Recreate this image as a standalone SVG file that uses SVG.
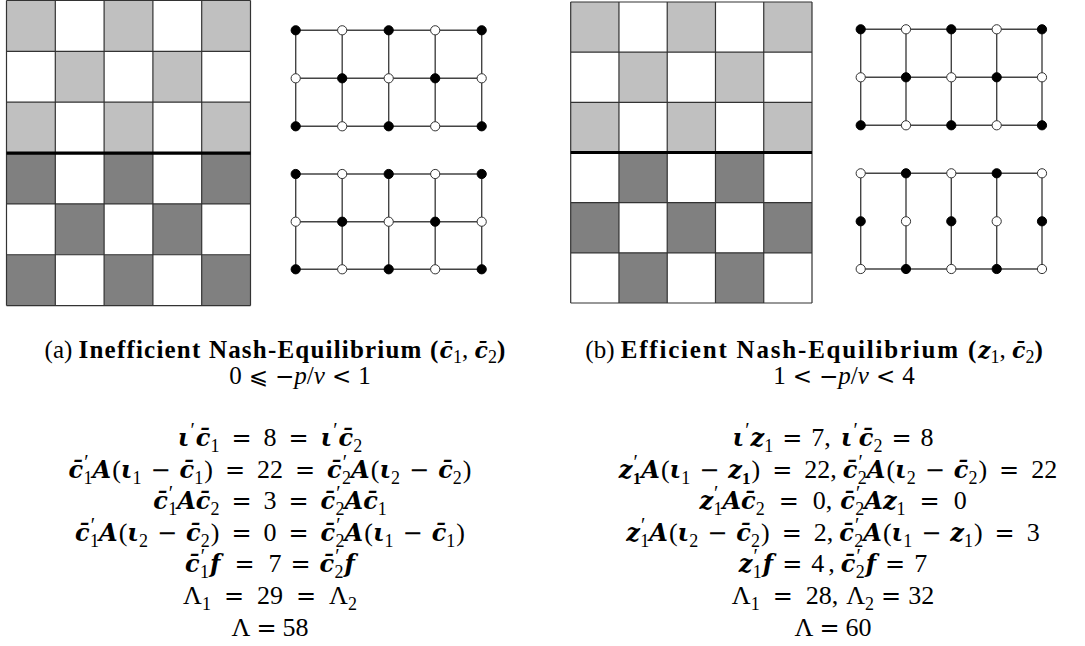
<svg xmlns="http://www.w3.org/2000/svg" width="1085" height="646" viewBox="0 0 1085 646">
<style>
.bg{fill:#fff}
.lt{fill:#c0c0c0}
.dk{fill:#808080}
.gl{fill:none;stroke:#333;stroke-width:1.2}
.thick{stroke:#000;stroke-width:3.2}
.edge{fill:none;stroke:#444;stroke-width:1.4}
.nb{fill:#000;stroke:#000;stroke-width:1}
.nw{fill:#fff;stroke:#333;stroke-width:1}
text{font-family:"Liberation Serif","DejaVu Serif",serif;fill:#000}
.cap{font-size:25px;text-anchor:middle}
.capb{font-weight:bold;letter-spacing:1.2px}
.capb2{font-weight:bold;letter-spacing:1.8px}
.m{font-size:26px;text-anchor:middle}
.v{font-family:"DejaVu Serif",serif;font-size:24px;font-weight:bold;font-style:italic}
.vc{font-family:"DejaVu Serif",serif;font-size:22px;font-weight:bold;font-style:italic}
.o{font-family:"DejaVu Sans",sans-serif;font-size:24px}
.s{font-size:18px}
.p{font-size:20px}
.sb{font-size:17px;font-weight:bold}
.it{font-style:italic}
.rel{font-family:"DejaVu Sans","DejaVu Serif",sans-serif;font-size:23px}
</style>

<g id="grid-a">
<rect class="bg" x="6.5" y="0.5" width="244" height="305.1"/>
<rect class="lt" x="6.5" y="0.5" width="48.8" height="50.85"/>
<rect class="lt" x="104.1" y="0.5" width="48.8" height="50.85"/>
<rect class="lt" x="201.7" y="0.5" width="48.8" height="50.85"/>
<rect class="lt" x="55.3" y="51.35" width="48.8" height="50.85"/>
<rect class="lt" x="152.9" y="51.35" width="48.8" height="50.85"/>
<rect class="lt" x="6.5" y="102.2" width="48.8" height="50.85"/>
<rect class="lt" x="104.1" y="102.2" width="48.8" height="50.85"/>
<rect class="lt" x="201.7" y="102.2" width="48.8" height="50.85"/>
<rect class="dk" x="6.5" y="153.05" width="48.8" height="50.85"/>
<rect class="dk" x="104.1" y="153.05" width="48.8" height="50.85"/>
<rect class="dk" x="201.7" y="153.05" width="48.8" height="50.85"/>
<rect class="dk" x="55.3" y="203.9" width="48.8" height="50.85"/>
<rect class="dk" x="152.9" y="203.9" width="48.8" height="50.85"/>
<rect class="dk" x="6.5" y="254.75" width="48.8" height="50.85"/>
<rect class="dk" x="104.1" y="254.75" width="48.8" height="50.85"/>
<rect class="dk" x="201.7" y="254.75" width="48.8" height="50.85"/>
<path class="gl" d="M6.5 0.5V305.6M55.3 0.5V305.6M104.1 0.5V305.6M152.9 0.5V305.6M201.7 0.5V305.6M250.5 0.5V305.6M6.5 0.5H250.5M6.5 51.35H250.5M6.5 102.2H250.5M6.5 203.9H250.5M6.5 254.75H250.5M6.5 305.6H250.5"/>
<path class="thick" d="M6.5 153.05H250.5"/>
</g>

<g id="grid-b">
<rect class="bg" x="570.7" y="2" width="241.3" height="301"/>
<rect class="lt" x="570.7" y="2" width="48.26" height="50.17"/>
<rect class="lt" x="667.22" y="2" width="48.26" height="50.17"/>
<rect class="lt" x="763.74" y="2" width="48.26" height="50.17"/>
<rect class="lt" x="618.96" y="52.17" width="48.26" height="50.17"/>
<rect class="lt" x="715.48" y="52.17" width="48.26" height="50.17"/>
<rect class="lt" x="570.7" y="102.33" width="48.26" height="50.17"/>
<rect class="lt" x="667.22" y="102.33" width="48.26" height="50.17"/>
<rect class="lt" x="763.74" y="102.33" width="48.26" height="50.17"/>
<rect class="dk" x="618.96" y="152.5" width="48.26" height="50.17"/>
<rect class="dk" x="715.48" y="152.5" width="48.26" height="50.17"/>
<rect class="dk" x="570.7" y="202.67" width="48.26" height="50.17"/>
<rect class="dk" x="667.22" y="202.67" width="48.26" height="50.17"/>
<rect class="dk" x="763.74" y="202.67" width="48.26" height="50.17"/>
<rect class="dk" x="618.96" y="252.83" width="48.26" height="50.17"/>
<rect class="dk" x="715.48" y="252.83" width="48.26" height="50.17"/>
<path class="gl" d="M570.7 2V303M618.96 2V303M667.22 2V303M715.48 2V303M763.74 2V303M812 2V303M570.7 2H812M570.7 52.17H812M570.7 102.33H812M570.7 202.67H812M570.7 252.83H812M570.7 303H812"/>
<path class="thick" d="M570.7 152.5H812"/>
</g>

<g id="connectors">
<path class="edge" d="M295.7 30.3H481.7M295.7 78.3H481.7M295.7 126.3H481.7M295.7 30.3V126.3M342.2 30.3V126.3M388.7 30.3V126.3M435.2 30.3V126.3M481.7 30.3V126.3"/>
<path class="edge" d="M295.7 174H481.7M295.7 221.7H481.7M295.7 269.3H481.7M295.7 174V269.3M342.2 174V269.3M388.7 174V269.3M435.2 174V269.3M481.7 174V269.3"/>
<path class="edge" d="M860.7 29.3H1042M860.7 77.3H1042M860.7 125.3H1042M860.7 29.3V125.3M906 29.3V125.3M951.3 29.3V125.3M996.7 29.3V125.3M1042 29.3V125.3"/>
<path class="edge" d="M860.7 173.3H1042M860.7 269H1042M860.7 173.3V269M906 173.3V269M951.3 173.3V269M996.7 173.3V269M1042 173.3V269"/>
</g>

<g id="graph-a-top">
<g id="at-00"><circle class="nb" cx="295.7" cy="30.3" r="4.6"/></g>
<g id="at-01"><circle class="nw" cx="342.2" cy="30.3" r="4.6"/></g>
<g id="at-02"><circle class="nb" cx="388.7" cy="30.3" r="4.6"/></g>
<g id="at-03"><circle class="nw" cx="435.2" cy="30.3" r="4.6"/></g>
<g id="at-04"><circle class="nb" cx="481.7" cy="30.3" r="4.6"/></g>
<g id="at-10"><circle class="nw" cx="295.7" cy="78.3" r="4.6"/></g>
<g id="at-11"><circle class="nb" cx="342.2" cy="78.3" r="4.6"/></g>
<g id="at-12"><circle class="nw" cx="388.7" cy="78.3" r="4.6"/></g>
<g id="at-13"><circle class="nb" cx="435.2" cy="78.3" r="4.6"/></g>
<g id="at-14"><circle class="nw" cx="481.7" cy="78.3" r="4.6"/></g>
<g id="at-20"><circle class="nb" cx="295.7" cy="126.3" r="4.6"/></g>
<g id="at-21"><circle class="nw" cx="342.2" cy="126.3" r="4.6"/></g>
<g id="at-22"><circle class="nb" cx="388.7" cy="126.3" r="4.6"/></g>
<g id="at-23"><circle class="nw" cx="435.2" cy="126.3" r="4.6"/></g>
<g id="at-24"><circle class="nb" cx="481.7" cy="126.3" r="4.6"/></g>
</g>

<g id="graph-a-bottom">
<g id="ab-00"><circle class="nb" cx="295.7" cy="174" r="4.6"/></g>
<g id="ab-01"><circle class="nw" cx="342.2" cy="174" r="4.6"/></g>
<g id="ab-02"><circle class="nb" cx="388.7" cy="174" r="4.6"/></g>
<g id="ab-03"><circle class="nw" cx="435.2" cy="174" r="4.6"/></g>
<g id="ab-04"><circle class="nb" cx="481.7" cy="174" r="4.6"/></g>
<g id="ab-10"><circle class="nw" cx="295.7" cy="221.7" r="4.6"/></g>
<g id="ab-11"><circle class="nb" cx="342.2" cy="221.7" r="4.6"/></g>
<g id="ab-12"><circle class="nw" cx="388.7" cy="221.7" r="4.6"/></g>
<g id="ab-13"><circle class="nb" cx="435.2" cy="221.7" r="4.6"/></g>
<g id="ab-14"><circle class="nw" cx="481.7" cy="221.7" r="4.6"/></g>
<g id="ab-20"><circle class="nb" cx="295.7" cy="269.3" r="4.6"/></g>
<g id="ab-21"><circle class="nw" cx="342.2" cy="269.3" r="4.6"/></g>
<g id="ab-22"><circle class="nb" cx="388.7" cy="269.3" r="4.6"/></g>
<g id="ab-23"><circle class="nw" cx="435.2" cy="269.3" r="4.6"/></g>
<g id="ab-24"><circle class="nb" cx="481.7" cy="269.3" r="4.6"/></g>
</g>

<g id="graph-b-top">
<g id="bt-00"><circle class="nb" cx="860.7" cy="29.3" r="4.6"/></g>
<g id="bt-01"><circle class="nw" cx="906" cy="29.3" r="4.6"/></g>
<g id="bt-02"><circle class="nb" cx="951.3" cy="29.3" r="4.6"/></g>
<g id="bt-03"><circle class="nw" cx="996.7" cy="29.3" r="4.6"/></g>
<g id="bt-04"><circle class="nb" cx="1042" cy="29.3" r="4.6"/></g>
<g id="bt-10"><circle class="nw" cx="860.7" cy="77.3" r="4.6"/></g>
<g id="bt-11"><circle class="nb" cx="906" cy="77.3" r="4.6"/></g>
<g id="bt-12"><circle class="nw" cx="951.3" cy="77.3" r="4.6"/></g>
<g id="bt-13"><circle class="nb" cx="996.7" cy="77.3" r="4.6"/></g>
<g id="bt-14"><circle class="nw" cx="1042" cy="77.3" r="4.6"/></g>
<g id="bt-20"><circle class="nb" cx="860.7" cy="125.3" r="4.6"/></g>
<g id="bt-21"><circle class="nw" cx="906" cy="125.3" r="4.6"/></g>
<g id="bt-22"><circle class="nb" cx="951.3" cy="125.3" r="4.6"/></g>
<g id="bt-23"><circle class="nw" cx="996.7" cy="125.3" r="4.6"/></g>
<g id="bt-24"><circle class="nb" cx="1042" cy="125.3" r="4.6"/></g>
</g>

<g id="graph-b-bottom">
<g id="bb-00"><circle class="nw" cx="860.7" cy="173.3" r="4.6"/></g>
<g id="bb-01"><circle class="nb" cx="906" cy="173.3" r="4.6"/></g>
<g id="bb-02"><circle class="nw" cx="951.3" cy="173.3" r="4.6"/></g>
<g id="bb-03"><circle class="nb" cx="996.7" cy="173.3" r="4.6"/></g>
<g id="bb-04"><circle class="nw" cx="1042" cy="173.3" r="4.6"/></g>
<g id="bb-10"><circle class="nb" cx="860.7" cy="221.3" r="4.6"/></g>
<g id="bb-11"><circle class="nw" cx="906" cy="221.3" r="4.6"/></g>
<g id="bb-12"><circle class="nb" cx="951.3" cy="221.3" r="4.6"/></g>
<g id="bb-13"><circle class="nw" cx="996.7" cy="221.3" r="4.6"/></g>
<g id="bb-14"><circle class="nb" cx="1042" cy="221.3" r="4.6"/></g>
<g id="bb-20"><circle class="nw" cx="860.7" cy="269" r="4.6"/></g>
<g id="bb-21"><circle class="nb" cx="906" cy="269" r="4.6"/></g>
<g id="bb-22"><circle class="nw" cx="951.3" cy="269" r="4.6"/></g>
<g id="bb-23"><circle class="nb" cx="996.7" cy="269" r="4.6"/></g>
<g id="bb-24"><circle class="nw" cx="1042" cy="269" r="4.6"/></g>
</g>

<g id="caption-a">
<text class="cap" x="275.5" y="358"><tspan>(a) </tspan><tspan class="capb">Inefficient Nash-Equilibrium (</tspan><tspan class="vc">c&#x304;</tspan><tspan class="s" dy="5">1</tspan><tspan dy="-5">, </tspan><tspan class="vc">c&#x304;</tspan><tspan class="s" dy="5">2</tspan><tspan class="capb" dy="-5">)</tspan></text>
<text class="cap" x="300" y="384"><tspan>0</tspan><tspan class="rel" dx="7">⩽</tspan><tspan class="rel" dx="7">−</tspan><tspan class="it">p</tspan><tspan>/</tspan><tspan class="it">v</tspan><tspan class="rel" dx="7">&lt;</tspan><tspan dx="7">1</tspan></text>
</g>

<g id="caption-b">
<text class="cap" x="815" y="358"><tspan>(b) </tspan><tspan class="capb2">Efficient Nash-Equilibrium (</tspan><tspan class="vc">z</tspan><tspan class="s" dy="5">1</tspan><tspan dy="-5">, </tspan><tspan class="vc">c&#x304;</tspan><tspan class="s" dy="5">2</tspan><tspan class="capb2" dy="-5">)</tspan></text>
<text class="cap" x="844" y="384"><tspan>1</tspan><tspan class="rel" dx="7">&lt;</tspan><tspan class="rel" dx="7">−</tspan><tspan class="it">p</tspan><tspan>/</tspan><tspan class="it">v</tspan><tspan class="rel" dx="7">&lt;</tspan><tspan dx="7">4</tspan></text>
</g>

<g id="formulas-a">
<text class="m" x="270" y="446"><tspan class="v">ι</tspan><tspan class="p" dx="1" dy="-9">′</tspan><tspan class="v" dx="1" dy="9">c&#x304;</tspan><tspan class="s" dy="6">1</tspan><tspan class="o" dx="12" dy="-6">=</tspan><tspan dx="12">8</tspan><tspan class="o" dx="12">=</tspan><tspan class="v" dx="12">ι</tspan><tspan class="p" dx="1" dy="-9">′</tspan><tspan class="v" dx="1" dy="9">c&#x304;</tspan><tspan class="s" dy="6">2</tspan></text>
<text class="m" x="270" y="477.6"><tspan class="v">c&#x304;</tspan><tspan class="p" dx="1" dy="-9">′</tspan><tspan class="s" dx="-5" dy="15">1</tspan><tspan class="v" dy="-6">A</tspan><tspan dx="1">(</tspan><tspan class="v">ι</tspan><tspan class="s" dy="6">1</tspan><tspan class="o" dx="9" dy="-6">−</tspan><tspan class="v" dx="9">c&#x304;</tspan><tspan class="s" dy="6">1</tspan><tspan dx="1" dy="-6">)</tspan><tspan class="o" dx="12">=</tspan><tspan dx="12">22</tspan><tspan class="o" dx="12">=</tspan><tspan class="v" dx="12">c&#x304;</tspan><tspan class="p" dx="1" dy="-9">′</tspan><tspan class="s" dx="-5" dy="15">2</tspan><tspan class="v" dy="-6">A</tspan><tspan dx="1">(</tspan><tspan class="v">ι</tspan><tspan class="s" dy="6">2</tspan><tspan class="o" dx="9" dy="-6">−</tspan><tspan class="v" dx="9">c&#x304;</tspan><tspan class="s" dy="6">2</tspan><tspan dx="1" dy="-6">)</tspan></text>
<text class="m" x="270" y="509.2"><tspan class="v">c&#x304;</tspan><tspan class="p" dx="1" dy="-9">′</tspan><tspan class="s" dx="-5" dy="15">1</tspan><tspan class="v" dy="-6">A</tspan><tspan class="v">c&#x304;</tspan><tspan class="s" dy="6">2</tspan><tspan class="o" dx="12" dy="-6">=</tspan><tspan dx="12">3</tspan><tspan class="o" dx="12">=</tspan><tspan class="v" dx="12">c&#x304;</tspan><tspan class="p" dx="1" dy="-9">′</tspan><tspan class="s" dx="-5" dy="15">2</tspan><tspan class="v" dy="-6">A</tspan><tspan class="v">c&#x304;</tspan><tspan class="s" dy="6">1</tspan></text>
<text class="m" x="270" y="540.8"><tspan class="v">c&#x304;</tspan><tspan class="p" dx="1" dy="-9">′</tspan><tspan class="s" dx="-5" dy="15">1</tspan><tspan class="v" dy="-6">A</tspan><tspan dx="1">(</tspan><tspan class="v">ι</tspan><tspan class="s" dy="6">2</tspan><tspan class="o" dx="9" dy="-6">−</tspan><tspan class="v" dx="9">c&#x304;</tspan><tspan class="s" dy="6">2</tspan><tspan dx="1" dy="-6">)</tspan><tspan class="o" dx="12">=</tspan><tspan dx="12">0</tspan><tspan class="o" dx="12">=</tspan><tspan class="v" dx="12">c&#x304;</tspan><tspan class="p" dx="1" dy="-9">′</tspan><tspan class="s" dx="-5" dy="15">2</tspan><tspan class="v" dy="-6">A</tspan><tspan dx="1">(</tspan><tspan class="v">ι</tspan><tspan class="s" dy="6">1</tspan><tspan class="o" dx="9" dy="-6">−</tspan><tspan class="v" dx="9">c&#x304;</tspan><tspan class="s" dy="6">1</tspan><tspan dx="1" dy="-6">)</tspan></text>
<text class="m" x="270" y="572.4"><tspan class="v">c&#x304;</tspan><tspan class="p" dx="1" dy="-9">′</tspan><tspan class="s" dx="-5" dy="15">1</tspan><tspan class="v" dx="1" dy="-6">f</tspan><tspan class="o" dx="14">=</tspan><tspan dx="14">7</tspan><tspan class="o" dx="9">=</tspan><tspan class="v" dx="9">c&#x304;</tspan><tspan class="p" dx="1" dy="-9">′</tspan><tspan class="s" dx="-5" dy="15">2</tspan><tspan class="v" dx="1" dy="-6">f</tspan></text>
<text class="m" x="270" y="604"><tspan>Λ</tspan><tspan class="s" dy="6">1</tspan><tspan class="o" dx="13" dy="-6">=</tspan><tspan dx="13">29</tspan><tspan class="o" dx="13">=</tspan><tspan dx="13">Λ</tspan><tspan class="s" dy="6">2</tspan></text>
<text class="m" x="270" y="635.6"><tspan>Λ</tspan><tspan class="o" dx="6">=</tspan><tspan dx="6">58</tspan></text>
</g>

<g id="formulas-b">
<text class="m" x="833" y="446"><tspan class="v">ι</tspan><tspan class="p" dx="1" dy="-9">′</tspan><tspan class="v" dx="1" dy="9">z</tspan><tspan class="s" dy="6">1</tspan><tspan class="o" dx="9" dy="-6">=</tspan><tspan dx="9">7,</tspan><tspan class="v" dx="10">ι</tspan><tspan class="p" dx="1" dy="-9">′</tspan><tspan class="v" dx="1" dy="9">c&#x304;</tspan><tspan class="s" dy="6">2</tspan><tspan class="o" dx="9" dy="-6">=</tspan><tspan dx="9">8</tspan></text>
<text class="m" x="838" y="477.6"><tspan class="v">z</tspan><tspan class="p" dx="1" dy="-9">′</tspan><tspan class="sb" dx="-5" dy="15">1</tspan><tspan class="v" dy="-6">A</tspan><tspan dx="1">(</tspan><tspan class="v">ι</tspan><tspan class="s" dy="6">1</tspan><tspan class="o" dx="9" dy="-6">−</tspan><tspan class="v" dx="9">z</tspan><tspan class="sb" dy="6">1</tspan><tspan dx="1" dy="-6">)</tspan><tspan class="o" dx="12">=</tspan><tspan dx="12">22,</tspan><tspan class="v" dx="6">c&#x304;</tspan><tspan class="p" dx="1" dy="-9">′</tspan><tspan class="s" dx="-5" dy="15">2</tspan><tspan class="v" dy="-6">A</tspan><tspan dx="1">(</tspan><tspan class="v">ι</tspan><tspan class="s" dy="6">2</tspan><tspan class="o" dx="9" dy="-6">−</tspan><tspan class="v" dx="9">c&#x304;</tspan><tspan class="s" dy="6">2</tspan><tspan dx="1" dy="-6">)</tspan><tspan class="o" dx="12">=</tspan><tspan dx="12">22</tspan></text>
<text class="m" x="833" y="509.2"><tspan class="v">z</tspan><tspan class="p" dx="1" dy="-9">′</tspan><tspan class="s" dx="-5" dy="15">1</tspan><tspan class="v" dy="-6">A</tspan><tspan class="v">c&#x304;</tspan><tspan class="s" dy="6">2</tspan><tspan class="o" dx="14" dy="-6">=</tspan><tspan dx="14">0,</tspan><tspan class="v" dx="8">c&#x304;</tspan><tspan class="p" dx="1" dy="-9">′</tspan><tspan class="s" dx="-5" dy="15">2</tspan><tspan class="v" dy="-6">A</tspan><tspan class="v">z</tspan><tspan class="s" dy="6">1</tspan><tspan class="o" dx="14" dy="-6">=</tspan><tspan dx="14">0</tspan></text>
<text class="m" x="833" y="540.8"><tspan class="v">z</tspan><tspan class="p" dx="1" dy="-9">′</tspan><tspan class="s" dx="-5" dy="15">1</tspan><tspan class="v" dy="-6">A</tspan><tspan dx="1">(</tspan><tspan class="v">ι</tspan><tspan class="s" dy="6">2</tspan><tspan class="o" dx="9" dy="-6">−</tspan><tspan class="v" dx="9">c&#x304;</tspan><tspan class="s" dy="6">2</tspan><tspan dx="1" dy="-6">)</tspan><tspan class="o" dx="12">=</tspan><tspan dx="12">2,</tspan><tspan class="v" dx="6">c&#x304;</tspan><tspan class="p" dx="1" dy="-9">′</tspan><tspan class="s" dx="-5" dy="15">2</tspan><tspan class="v" dy="-6">A</tspan><tspan dx="1">(</tspan><tspan class="v">ι</tspan><tspan class="s" dy="6">1</tspan><tspan class="o" dx="9" dy="-6">−</tspan><tspan class="v" dx="9">z</tspan><tspan class="s" dy="6">1</tspan><tspan dx="1" dy="-6">)</tspan><tspan class="o" dx="12">=</tspan><tspan dx="12">3</tspan></text>
<text class="m" x="833" y="572.4"><tspan class="v">z</tspan><tspan class="p" dx="1" dy="-9">′</tspan><tspan class="s" dx="-5" dy="15">1</tspan><tspan class="v" dx="1" dy="-6">f</tspan><tspan class="o" dx="9">=</tspan><tspan dx="9">4</tspan><tspan dx="4">,</tspan><tspan class="v" dx="6">c&#x304;</tspan><tspan class="p" dx="1" dy="-9">′</tspan><tspan class="s" dx="-5" dy="15">2</tspan><tspan class="v" dx="1" dy="-6">f</tspan><tspan class="o" dx="9">=</tspan><tspan dx="9">7</tspan></text>
<text class="m" x="833" y="604"><tspan>Λ</tspan><tspan class="s" dy="6">1</tspan><tspan class="o" dx="13" dy="-6">=</tspan><tspan dx="13">28,</tspan><tspan dx="8">Λ</tspan><tspan class="s" dy="6">2</tspan><tspan class="o" dx="7" dy="-6">=</tspan><tspan dx="7">32</tspan></text>
<text class="m" x="833" y="635.6"><tspan>Λ</tspan><tspan class="o" dx="6">=</tspan><tspan dx="6">60</tspan></text>
</g>
</svg>
